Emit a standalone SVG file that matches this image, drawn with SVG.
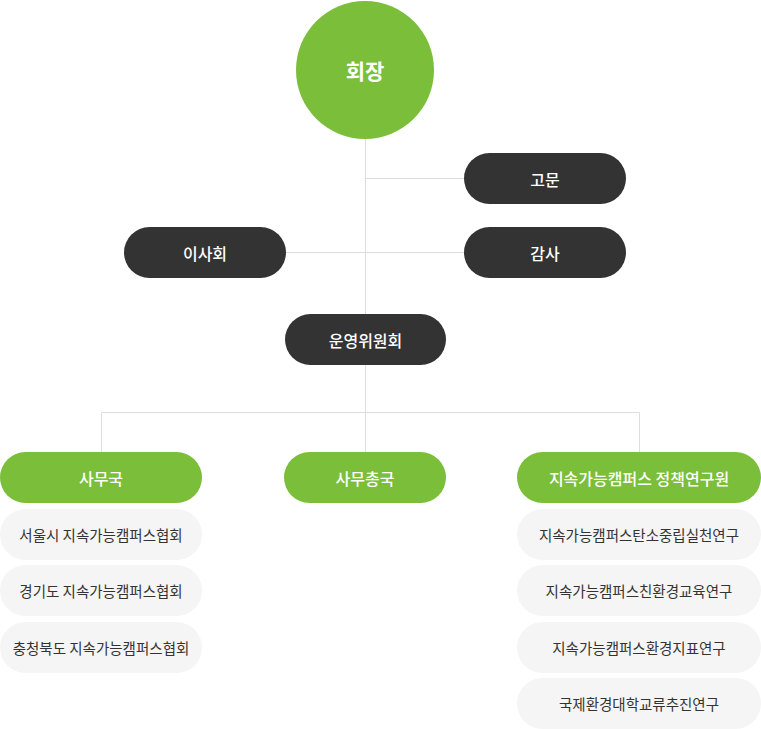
<svg xmlns="http://www.w3.org/2000/svg" width="761" height="729" viewBox="0 0 761 729">
<style>
text{font-family:"Noto Sans CJK KR","Noto Sans",sans-serif;text-anchor:middle;dominant-baseline:central}
.g{fill:#7bbe3a}
.d{fill:#333333}
.l{fill:#f5f5f5}
.w{fill:#ffffff;font-size:16px;font-weight:500}
.t{fill:#333333;font-size:14.5px}
.c{stroke:#dddddd;stroke-width:1;fill:none}
</style>
<rect width="761" height="729" fill="#ffffff"/>
<g id="connectors" class="c">
<path d="M365.5 139V412"/>
<path d="M365.5 178.5H464"/>
<path d="M286 252.5H464"/>
<path d="M101.5 452V412.5H639.5V452"/>
<path d="M365.5 412V452"/>
</g>
<g id="n-chair"><circle class="g" cx="365" cy="70" r="69"/><text class="w" x="365" y="70" style="font-size:21px;font-weight:700">회장</text></g>
<g id="n-advisor"><rect class="d" x="464" y="153" width="162" height="51" rx="25.5"/><text class="w" x="545" y="178.5">고문</text></g>
<g id="n-board"><rect class="d" x="124" y="227" width="162" height="51" rx="25.5"/><text class="w" x="205" y="252.5">이사회</text></g>
<g id="n-audit"><rect class="d" x="464" y="227" width="162" height="51" rx="25.5"/><text class="w" x="545" y="252.5">감사</text></g>
<g id="n-steering"><rect class="d" x="285" y="314" width="161" height="51" rx="25.5"/><text class="w" x="365.5" y="339.5">운영위원회</text></g>
<g id="n-office"><rect class="g" x="0" y="452" width="202" height="51" rx="25.5"/><text class="w" x="101" y="477.5">사무국</text></g>
<g id="n-secgen"><rect class="g" x="284" y="452" width="162" height="51" rx="25.5"/><text class="w" x="365" y="477.5">사무총국</text></g>
<g id="n-institute"><rect class="g" x="517" y="452" width="244" height="51" rx="25.5"/><text class="w" x="639" y="477.5">지속가능캠퍼스 정책연구원</text></g>
<g id="n-seoul"><rect class="l" x="0" y="509" width="202" height="51" rx="25.5"/><text class="t" x="101" y="534.5">서울시 지속가능캠퍼스협회</text></g>
<g id="n-gyeonggi"><rect class="l" x="0" y="565" width="202" height="51" rx="25.5"/><text class="t" x="101" y="590.5">경기도 지속가능캠퍼스협회</text></g>
<g id="n-chungbuk"><rect class="l" x="0" y="622" width="202" height="51" rx="25.5"/><text class="t" x="101" y="647.5">충청북도 지속가능캠퍼스협회</text></g>
<g id="n-r1"><rect class="l" x="517" y="509" width="244" height="51" rx="25.5"/><text class="t" x="639" y="534.5">지속가능캠퍼스탄소중립실천연구</text></g>
<g id="n-r2"><rect class="l" x="517" y="565" width="244" height="51" rx="25.5"/><text class="t" x="639" y="590.5">지속가능캠퍼스친환경교육연구</text></g>
<g id="n-r3"><rect class="l" x="517" y="622" width="244" height="51" rx="25.5"/><text class="t" x="639" y="647.5">지속가능캠퍼스환경지표연구</text></g>
<g id="n-r4"><rect class="l" x="517" y="678" width="244" height="51" rx="25.5"/><text class="t" x="639" y="703.5">국제환경대학교류추진연구</text></g>
</svg>
